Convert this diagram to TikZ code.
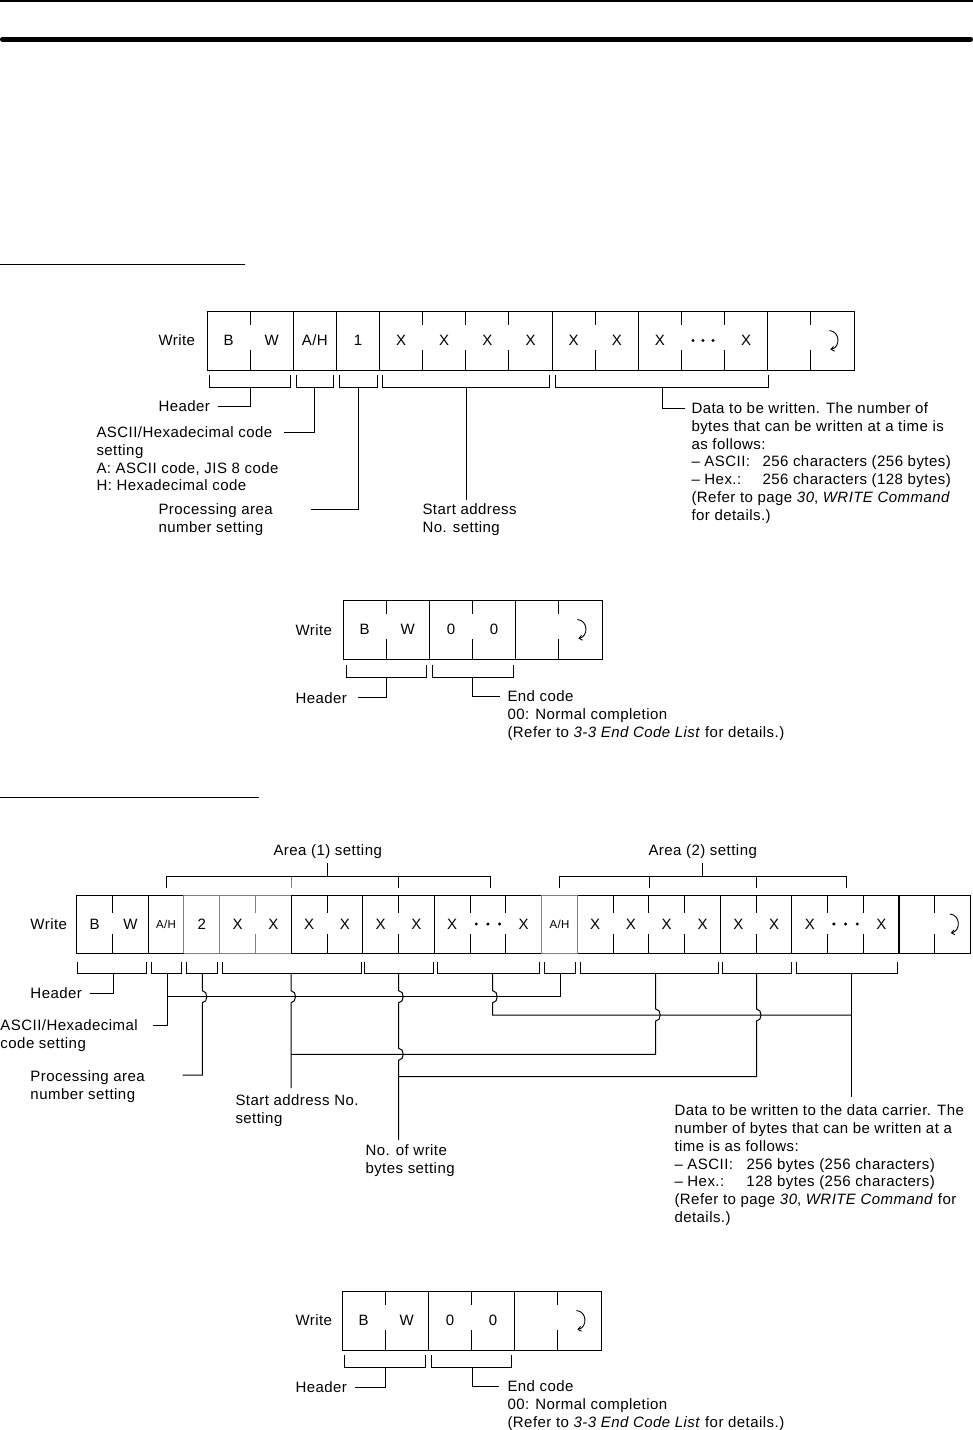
\documentclass[tikz,border=0pt]{standalone}
\usepackage{fontspec}
\setmainfont{Liberation Sans}[LetterSpace=3]
\usetikzlibrary{arrows.meta}
\newcommand\fsz{\fontsize{15}{17.7}\selectfont}
\newcommand\csz{\fontsize{15}{16}\selectfont}
\newcommand\ssz{\fontsize{11.5}{13}\selectfont}
\newcommand\AHtxt{A/H}
\newcommand\tzhop[2]{-- (#1,#2-6) .. controls (#1+6,#2-6) and (#1+6,#2+6) .. (#1,#2+6)}
\begin{document}
\begin{tikzpicture}[x=1pt,y=-1pt,line width=1pt,
  lbl/.style={anchor=north west,inner sep=0pt,align=left,font=\fsz},
  one/.style={anchor=base west,inner sep=0pt,font=\fsz},
  cell/.style={anchor=center,inner sep=0pt,font=\csz},
  grl/.style={draw=black!50},
  ret/.pic={\draw[line width=0.9pt,-{Straight Barb[length=3pt,width=5pt]}] (-3,-10) .. controls (8,-9) and (8,7) .. (-2,9);}
]
\useasboundingbox (0,0) rectangle (973,1430);

% page rules
\draw[line width=2.5pt] (0,1.2) -- (973,1.2);
\draw[line width=4.6pt,line cap=round] (2.3,39.4) -- (970.7,39.4);
\draw (0,264) -- (245,264);
\draw (0,797) -- (259,797);

% ================= Frame 1 =================
\node[one] (w1) at (158,345.4) {Write};
\draw (207,311) rectangle (854,370);
\foreach \i in {2,3,4,8,10,13}{\draw ({207+\i*43.133},311) -- ({207+\i*43.133},370);}
\foreach \i in {1,5,6,7,9,11,12,14}{\draw ({207+\i*43.133},311) -- ++(0,14) ({207+\i*43.133},370) -- ++(0,-20);}
\foreach \i/\t in {1/B,2/W,3/\AHtxt,4/1,5/X,6/X,7/X,8/X,9/X,10/X,11/X,13/X}{\node[cell] (fa-\i) at ({207+(\i-0.5)*43.133},340.5) {\t};}
\foreach \d in {-10,0,10}{\fill ({207+11.5*43.133+\d},340.5) circle[radius=1.7];}
\pic (r1) at ({207+14.5*43.133},340.5) {ret};
\foreach \a/\b/\s/\n in {209/290/250/h,296/333/314/a,339/377/358/p,382/549/466/s,555/768/662/d}{\draw (\a,375) -- (\a,387) -- (\b,387) -- (\b,375); \coordinate (ba-\n) at (\s,387);}

\node[one] (h1) at (158,411.4) {Header};
\node[lbl] (a1) at (96,425) {\strut ASCII/Hexadecimal code\\setting\\A: ASCII code, JIS 8 code\\H: Hexadecimal code};
\node[lbl] (p1) at (158,502) {\strut Processing area\\number setting};
\node[lbl] (s1) at (422,502) {\strut Start address\\No. setting};
\node[lbl] (d1) at (691,401) {\strut Data to be written. The number of\\bytes that can be written at a time is\\as follows:\\\makebox[71pt][l]{– ASCII:}256 characters (256 bytes)\\\makebox[71pt][l]{– Hex.:}256 characters (128 bytes)\\(Refer to page \textit{30}, \textit{WRITE Command}\\for details.)};
\coordinate (h1e) at (218,406);
\coordinate (a1e) at (284,432);
\coordinate (p1e) at (311,509);
\coordinate (s1n) at (466,500);
\coordinate (d1w) at (685,408);
\draw (ba-h) |- (h1e);
\draw (ba-a) |- (a1e);
\draw (ba-p) |- (p1e);
\draw (ba-s) -- (s1n);
\draw (ba-d) |- (d1w);

% ================= Frame 2 =================
\node[one] (w2) at (295,635.4) {Write};
\draw (343,600) rectangle (602,659);
\foreach \i in {2,4}{\draw ({343+\i*43.167},600) -- ++(0,59);}
\foreach \i in {1,3,5}{\draw ({343+\i*43.167},600) -- ++(0,14) ({343+\i*43.167},659) -- ++(0,-20);}
\foreach \i/\t in {1/B,2/W,3/0,4/0}{\node[cell] (fb-\i) at ({343+(\i-0.5)*43.167},629.5) {\t};}
\pic (r2) at ({343+5.5*43.167},629.5) {ret};
\foreach \a/\b/\s/\n in {346/426/386/h,432/513/472/e}{\draw (\a,665) -- (\a,677) -- (\b,677) -- (\b,665); \coordinate (bb-\n) at (\s,677);}
\node[one] (h2) at (295,703) {Header};
\node[lbl] (e2) at (507,689) {\strut End code\\00: Normal completion\\(Refer to \textit{3-3 End Code List} for details.)};
\coordinate (h2e) at (358,697.5);
\coordinate (e2w) at (500,696.5);
\draw (bb-h) |- (h2e);
\draw (bb-e) |- (e2w);

% ================= Frame 3 =================
\node[one,anchor=base] (ar1) at (327.7,855) {Area (1) setting};
\node[one,anchor=base] (ar2) at (702.7,855) {Area (2) setting};
\draw (166.7,888) -- (166.7,876.7) -- (490,876.7) -- (490,888);
\draw[grl] (291,876.7) -- (291,888);
\draw (398.7,876.7) -- (398.7,888);
\draw (559.3,888) -- (559.3,876.7) -- (846.7,876.7) -- (846.7,888);
\draw (649.3,876.7) -- (649.3,888);
\draw (756.7,876.7) -- (756.7,888);
\coordinate (ar1b) at (327.7,876.7);
\coordinate (ar2b) at (702.7,876.7);
\coordinate (ar1s) at (327.7,863);
\coordinate (ar2s) at (702.7,863);
\draw (ar1b) -- (ar1s);
\draw (ar2b) -- (ar2s);

\node[one] (w3) at (30,929.4) {Write};
\draw (76.7,895) rectangle (970.7,953);
\foreach \i in {2,3,4,6,8,10,13,14,18,20}{\draw ({76.7+\i*35.76},895) -- ++(0,58);}
\draw[line width=1.8pt] ({76.7+23*35.76},895) -- ++(0,58);
\foreach \i in {1,5,7,9,11,12,15,16,17,19,21,22,24}{\draw ({76.7+\i*35.76},895) -- ++(0,18) ({76.7+\i*35.76},953) -- ++(0,-19);}
% grey outlined cells
\draw[grl] (183.98,895) -- (291.26,895) (183.98,953) -- (291.26,953) (183.98,895) -- (183.98,953) (219.74,895) -- (219.74,953) (255.5,895) -- ++(0,18) (255.5,953) -- ++(0,-19);
\draw[grl] (541.58,895) rectangle (577.34,953);
\foreach \i/\t in {1/B,2/W,4/2,5/X,6/X,7/X,8/X,9/X,10/X,11/X,13/X,15/X,16/X,17/X,18/X,19/X,20/X,21/X,23/X}{\node[cell] (fc-\i) at ({76.7+(\i-0.5)*35.76},924) {\t};}
\foreach \i in {3,14}{\node[cell,font=\ssz] (fc-\i) at ({76.7+(\i-0.5)*35.76},924.5) {\AHtxt};}
\foreach \c in {12,22}{\foreach \d in {-11.7,0,11.7}{\fill ({76.7+(\c-0.5)*35.76+\d},924) circle[radius=1.7];}}
\pic (r3) at ({76.7+24.5*35.76},924) {ret};
\foreach \a/\b/\s/\n in {77/146/113.3/h,151/181/167.3/a,186/217/202.3/p,222/361/291/s,364/433/398.7/b,437/539/492.7/d,544/575/560.7/a2,580/718/655.7/s2,722/791/756.5/b2,796/897/851/d2}{\draw (\a,962) -- (\a,973) -- (\b,973) -- (\b,962); \coordinate (bc-\n) at (\s,973);}

\node[one] (h3) at (30,998.4) {Header};
\node[lbl] (a3) at (0,1018) {\strut ASCII/Hexadecimal\\code setting};
\node[lbl] (p3) at (30,1069) {\strut Processing area\\number setting};
\node[lbl] (s3) at (235,1093) {\strut Start address No.\\setting};
\node[lbl] (b3) at (365,1143) {\strut No. of write\\bytes setting};
\node[lbl] (d3) at (674,1103) {\strut Data to be written to the data carrier. The\\number of bytes that can be written at a\\time is as follows:\\\makebox[72pt][l]{– ASCII:}256 bytes (256 characters)\\\makebox[72pt][l]{– Hex.:}128 bytes (256 characters)\\(Refer to page \textit{30}, \textit{WRITE Command} for\\details.)};

\coordinate (h3e) at (90,993);
\coordinate (a3e) at (153,1025);
\coordinate (p3e) at (182.7,1075);
\coordinate (s3n) at (291,1088);
\coordinate (b3n) at (398.7,1140);
\coordinate (d3n) at (851,1096.7);
\coordinate (ja) at (167.3,996.7);
\coordinate (js) at (291,1054.3);
\coordinate (jb) at (398.7,1076.7);
\coordinate (jd) at (851,1015);

\draw (bc-h) |- (h3e);
\draw (bc-a) |- (a3e);
\draw (bc-a2) |- (ja);
\draw (bc-p) \tzhop{202.3}{996.7} |- (p3e);
\draw (bc-s) \tzhop{291}{996.7} -- (s3n);
\draw (bc-s2) \tzhop{655.7}{1015} |- (js);
\draw (bc-b) \tzhop{398.7}{996.7} \tzhop{398.7}{1054.3} -- (b3n);
\draw (bc-b2) \tzhop{756.5}{1015} |- (jb);
\draw (bc-d) \tzhop{492.7}{996.7} |- (jd);
\draw (bc-d2) -- (d3n);

% ================= Frame 4 =================
\node[one] (w4) at (295,1325.4) {Write};
\draw (342,1291) rectangle (601,1350);
\foreach \i in {2,4}{\draw ({342+\i*43.167},1291) -- ++(0,59);}
\foreach \i in {1,3,5}{\draw ({342+\i*43.167},1291) -- ++(0,14) ({342+\i*43.167},1350) -- ++(0,-20);}
\foreach \i/\t in {1/B,2/W,3/0,4/0}{\node[cell] (fd-\i) at ({342+(\i-0.5)*43.167},1320.5) {\t};}
\pic (r4) at ({342+5.5*43.167},1320.5) {ret};
\foreach \a/\b/\s/\n in {344/425/385/h,431/511/472/e}{\draw (\a,1355) -- (\a,1367) -- (\b,1367) -- (\b,1355); \coordinate (bd-\n) at (\s,1367);}
\node[one] (h4) at (295,1392.4) {Header};
\node[lbl] (e4) at (507,1379) {\strut End code\\00: Normal completion\\(Refer to \textit{3-3 End Code List} for details.)};
\coordinate (h4e) at (355,1387);
\coordinate (e4w) at (499,1386);
\draw (bd-h) |- (h4e);
\draw (bd-e) |- (e4w);
\end{tikzpicture}
\end{document}
